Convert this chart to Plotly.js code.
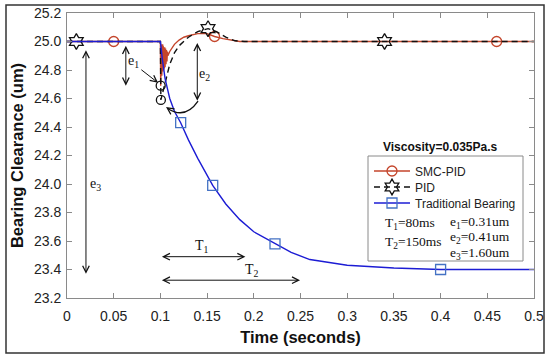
<!DOCTYPE html>
<html>
<head>
<meta charset="utf-8">
<script src="https://cdn.plot.ly/plotly-3.0.1.min.js"></script>
<style>html,body{margin:0;padding:0;background:#fff;}#chart{width:550px;height:360px;}</style>
</head>
<body>
<div id="chart"></div>
<script>
// ---- data ----
const xTickVals = [0, 0.05, 0.1, 0.15, 0.2, 0.25, 0.3, 0.35, 0.4, 0.45, 0.5];
const xTickText = ['0', '0.05', '0.1', '0.15', '0.2', '0.25', '0.3', '0.35', '0.4', '0.45', '0.5'];
const yTickVals = [23.2, 23.4, 23.6, 23.8, 24.0, 24.2, 24.4, 24.6, 24.8, 25.0, 25.2];
const yTickText = ['23.2', '23.4', '23.6', '23.8', '24.0', '24.2', '24.4', '24.6', '24.8', '25.0', '25.2'];

const seriesNames = ['SMC-PID', 'PID', 'Traditional Bearing'];

const smcT = [0, 0.05, 0.1, 0.1003, 0.1006, 0.1009, 0.1012, 0.1015, 0.1018, 0.1021, 0.1024, 0.1027,
  0.103, 0.1034, 0.1038, 0.1042, 0.1046, 0.105, 0.1055, 0.106, 0.1065, 0.107, 0.1075, 0.108,
  0.11, 0.115, 0.12, 0.125, 0.13, 0.14, 0.15, 0.158, 0.167, 0.175, 0.185, 0.2, 0.3, 0.4, 0.46, 0.5];
const smcV = [25.0, 25.0, 25.0, 24.69, 24.97, 24.72, 24.98, 24.76, 24.97, 24.78, 24.98, 24.79,
  24.97, 24.80, 24.96, 24.81, 24.96, 24.82, 24.95, 24.84, 24.94, 24.86, 24.93, 24.90,
  24.93, 24.98, 25.01, 25.03, 25.04, 25.055, 25.055, 25.035, 25.02, 25.01, 25.0, 25.0, 25.0, 25.0, 25.0, 25.0];
const smcMarkT = [0.05, 0.158, 0.46];

const pidT = [0, 0.01, 0.1, 0.1005, 0.103, 0.106, 0.11, 0.115, 0.12, 0.13, 0.14, 0.151, 0.16, 0.17, 0.18, 0.19, 0.2, 0.34, 0.5];
const pidV = [25.0, 25.0, 25.0, 24.59, 24.66, 24.75, 24.84, 24.92, 24.97, 25.03, 25.07, 25.09, 25.07, 25.03, 25.005, 25.0, 25.0, 25.0, 25.0];
const pidMarkT = [0.01, 0.151, 0.34];

const tradT = [0, 0.1, 0.102, 0.105, 0.11, 0.115, 0.1217, 0.13, 0.14, 0.156, 0.17, 0.185, 0.2, 0.2227, 0.24, 0.26, 0.3, 0.35, 0.4, 0.45, 0.5];
const tradV = [25.0, 25.0, 24.88, 24.74, 24.60, 24.51, 24.43, 24.31, 24.18, 23.99, 23.86, 23.75, 23.665, 23.58, 23.52, 23.47, 23.43, 23.41, 23.40, 23.40, 23.40];
const tradMarkT = [0.1217, 0.156, 0.2227, 0.4];

const noteLines = ['T<sub>1</sub>=80ms', 'T<sub>2</sub>=150ms', 'e<sub>1</sub>=0.31um', 'e<sub>2</sub>=0.41um', 'e<sub>3</sub>=1.60um'];
const infoText = 'Viscosity=0.035Pa.s';

// ---- helpers ----
const M = {l: 67, r: 16, t: 13, b: 62};
const PW = 550 - M.l - M.r, PH = 360 - M.t - M.b;
const px = v => (v - M.l) / PW;          // pixel x -> paper
const py = v => (360 - M.b - v) / PH;    // pixel y -> paper
const idx = (arr, vals) => vals.map(v => arr.indexOf(v));
function argMin(a) { let k = 0; a.forEach((v, i) => { if (v < a[k]) k = i; }); return k; }

const serif = 'Liberation Serif, Times New Roman, serif';
const sans = 'Arial, Liberation Sans, sans-serif';
const smcColor = '#c4452b', tradLine = '#1c1cd4', tradMark = '#4472c4';

const smcMin = argMin(smcV), pidMin = argMin(pidV);

const traces = [
  {x: smcT, y: smcV, name: seriesNames[0], mode: 'lines+markers', legend: 'legend',
   line: {color: smcColor, width: 1.4},
   marker: {symbol: 'circle-open', size: 10, color: smcColor, line: {width: 1.3}},
   selectedpoints: idx(smcT, smcMarkT), selected: {marker: {opacity: 1}}, unselected: {marker: {opacity: 0}}},
  {x: pidT, y: pidV, name: seriesNames[1], mode: 'lines+markers', legend: 'legend2',
   line: {color: '#111', width: 1.4, dash: '6px,4px'},
   marker: {symbol: 'hexagram-open', size: 12, color: '#111', line: {width: 1.3}},
   selectedpoints: idx(pidT, pidMarkT), selected: {marker: {opacity: 1}}, unselected: {marker: {opacity: 0}}},
  {x: tradT, y: tradV, name: seriesNames[2], mode: 'lines+markers', legend: 'legend3',
   line: {color: tradLine, width: 1.4},
   marker: {symbol: 'square-open', size: 10, color: tradMark, line: {width: 1.3}},
   selectedpoints: idx(tradT, tradMarkT), selected: {marker: {opacity: 1}}, unselected: {marker: {opacity: 0}}},
  {x: [smcT[smcMin], pidT[pidMin]], y: [smcV[smcMin], pidV[pidMin]], mode: 'markers', showlegend: false,
   marker: {symbol: 'circle-open', size: 9, color: '#111', line: {width: 1.3}}, hoverinfo: 'skip'}
];

function arrow(x, y, ax, ay, both) {
  return {x: x, y: y, ax: ax, ay: ay, xref: 'x', yref: 'y', axref: 'x', ayref: 'y', text: '',
    showarrow: true, arrowhead: 5, startarrowhead: 5, arrowside: both ? 'end+start' : 'end',
    arrowsize: 1.3, startarrowsize: 1.3, arrowwidth: 1, arrowcolor: '#111'};
}
function label(x, y, t) {
  return {x: x, y: y, xref: 'x', yref: 'y', xanchor: 'center', yanchor: 'middle', text: t, showarrow: false,
    font: {family: serif, size: 14, color: '#111'}};
}
function note(xPix, yPix, t) {
  return {x: px(xPix), y: py(yPix), xref: 'paper', yref: 'paper', xanchor: 'left', yanchor: 'middle',
    text: t, showarrow: false, font: {family: serif, size: 13.5, color: '#111'}};
}

const annotations = [
  arrow(0.063, 24.69, 0.063, 24.98, true),
  arrow(0.1395, 24.585, 0.1395, 25.0, true),
  arrow(0.0203, 23.37, 0.0203, 24.95, true),
  arrow(0.191, 23.49, 0.1, 23.49, true),
  arrow(0.2495, 23.325, 0.1, 23.325, true),
  arrow(0.0975, 24.71, 0.078, 24.81, false),
  arrow(0.106, 24.54, 0.1103, 24.521, false),
  label(0.0707, 24.86, 'e<sub>1</sub>'),
  label(0.1467, 24.77, 'e<sub>2</sub>'),
  label(0.030, 24.0, 'e<sub>3</sub>'),
  label(0.144, 23.56, 'T<sub>1</sub>'),
  label(0.198, 23.39, 'T<sub>2</sub>'),
  {x: px(440), y: py(147), xref: 'paper', yref: 'paper', xanchor: 'center', yanchor: 'middle',
   text: '<b>' + infoText + '</b>', showarrow: false, font: {family: sans, size: 12, color: '#111'}},
  note(383, 223, noteLines[0]),
  note(383, 242, noteLines[1]),
  note(448, 222, noteLines[2]),
  note(448, 237, noteLines[3]),
  note(448, 253, noteLines[4])
];

const shapes = [
  {type: 'rect', xref: 'paper', yref: 'paper', x0: px(368), x1: px(523), y0: py(261), y1: py(156),
   line: {color: '#8a8a8a', width: 1}, fillcolor: '#fff', layer: 'above'},
  {type: 'rect', xref: 'paper', yref: 'paper', x0: px(6), x1: px(544), y0: py(353), y1: py(5),
   line: {color: '#333', width: 1.5}, fillcolor: 'rgba(0,0,0,0)', layer: 'above'},
  {type: 'path', xref: 'x', yref: 'y', path: 'M 0.1403,24.582 Q 0.1263,24.449 0.1075,24.532',
   line: {color: '#111', width: 1.3}, layer: 'above'}
];

const axisCommon = {showline: true, mirror: 'ticks', linecolor: '#8a8a8a', linewidth: 1,
  ticks: 'inside', ticklen: 5, tickcolor: '#8a8a8a', showgrid: false, zeroline: false,
  tickmode: 'array', tickfont: {family: sans, size: 14, color: '#222'}};

function legendAt(yPix) {
  return {x: px(369), y: py(yPix), xanchor: 'left', yanchor: 'middle', bgcolor: 'rgba(0,0,0,0)',
    borderwidth: 0, font: {family: sans, size: 12, color: '#222'}, itemwidth: 36};
}

const layout = {
  width: 550, height: 360, margin: M, paper_bgcolor: '#fff', plot_bgcolor: '#fff',
  xaxis: Object.assign({}, axisCommon, {range: [0, 0.5], tickvals: xTickVals, ticktext: xTickText,
    ticklabelstandoff: 5,
    title: {text: '<b>Time (seconds)</b>', font: {family: sans, size: 16.5, color: '#111'}, standoff: 8}}),
  yaxis: Object.assign({}, axisCommon, {range: [23.2, 25.2], tickvals: yTickVals, ticktext: yTickText,
    ticklabelstandoff: 2,
    title: {text: '<b>Bearing Clearance (um)</b>', font: {family: sans, size: 16.5, color: '#111'}, standoff: 6}}),
  showlegend: true,
  legend: legendAt(171),
  legend2: legendAt(187),
  legend3: legendAt(203),
  annotations: annotations,
  shapes: shapes
};

Plotly.newPlot('chart', traces, layout, {displayModeBar: false, staticPlot: true});
</script>
</body>
</html>
